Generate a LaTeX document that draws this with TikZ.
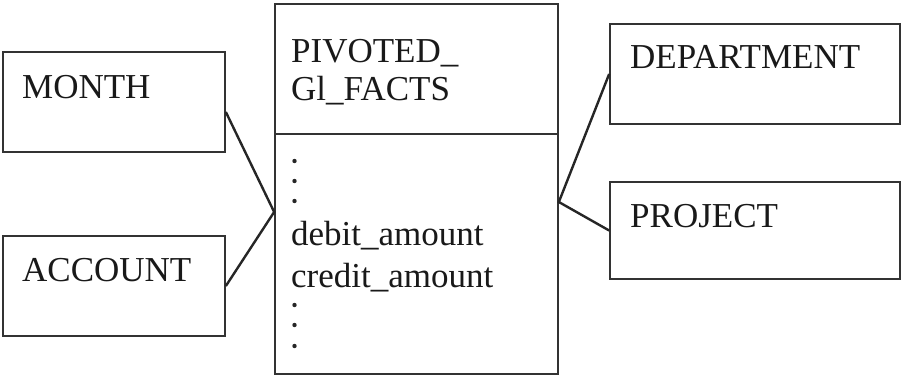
\documentclass[tikz,border=0pt]{standalone}
\usepackage{fontspec}
\setmainfont{Liberation Serif}
\begin{document}
\begin{tikzpicture}[x=1pt,y=-1pt,
  entbox/.style={draw=black!80,line width=1.7pt,rectangle,inner sep=0pt},
  lbl/.style={anchor=base west,inner sep=0pt,font=\fontsize{35}{38}\selectfont,text=black!90},
  conn/.style={draw=black!85,line width=2.4pt}]
\useasboundingbox (0,0) rectangle (904,376);
% boxes
\node[entbox,minimum width=222pt,minimum height=100pt] (month) at (114,102) {};
\node[entbox,minimum width=222pt,minimum height=100pt] (account) at (114,286) {};
\node[entbox,minimum width=283pt,minimum height=370pt] (fact) at (416.5,189) {};
\node[entbox,minimum width=290pt,minimum height=100pt] (dept) at (755,74) {};
\node[entbox,minimum width=290pt,minimum height=97pt] (proj) at (755,230.5) {};
\draw[draw=black!80,line width=1.7pt] (fact.west |- 0,134) coordinate (divl) -- (fact.east |- 0,134) coordinate (divr);
% labels
\node[lbl] (tmonth) at (22,98) {MONTH};
\node[lbl] (taccount) at (22,281) {ACCOUNT};
\node[lbl] (tdept) at (630,68) {DEPARTMENT};
\node[lbl] (tproj) at (630,227) {PROJECT};
\node[lbl] (tf1) at (291,62) {PIVOTED\_};
\node[lbl] (tf2) at (291,100) {Gl\_FACTS};
\node[lbl] (tdeb) at (291,245) {debit\_amount};
\node[lbl] (tcred) at (291,287) {credit\_amount};
\foreach \yy/\nm in {161/d1,181/d2,201/d3,305/d4,325/d5,346/d6}
  \fill[black!85] (294.5,\yy) circle (2.2pt) coordinate (\nm);
% connectors
\draw[conn] ([yshift=-10pt]month.east) -- ([yshift=-23pt]fact.west) -- (account.east);
\draw[conn] (dept.west) -- ([yshift=-13pt]fact.east) -- (proj.west);
\end{tikzpicture}
\end{document}
